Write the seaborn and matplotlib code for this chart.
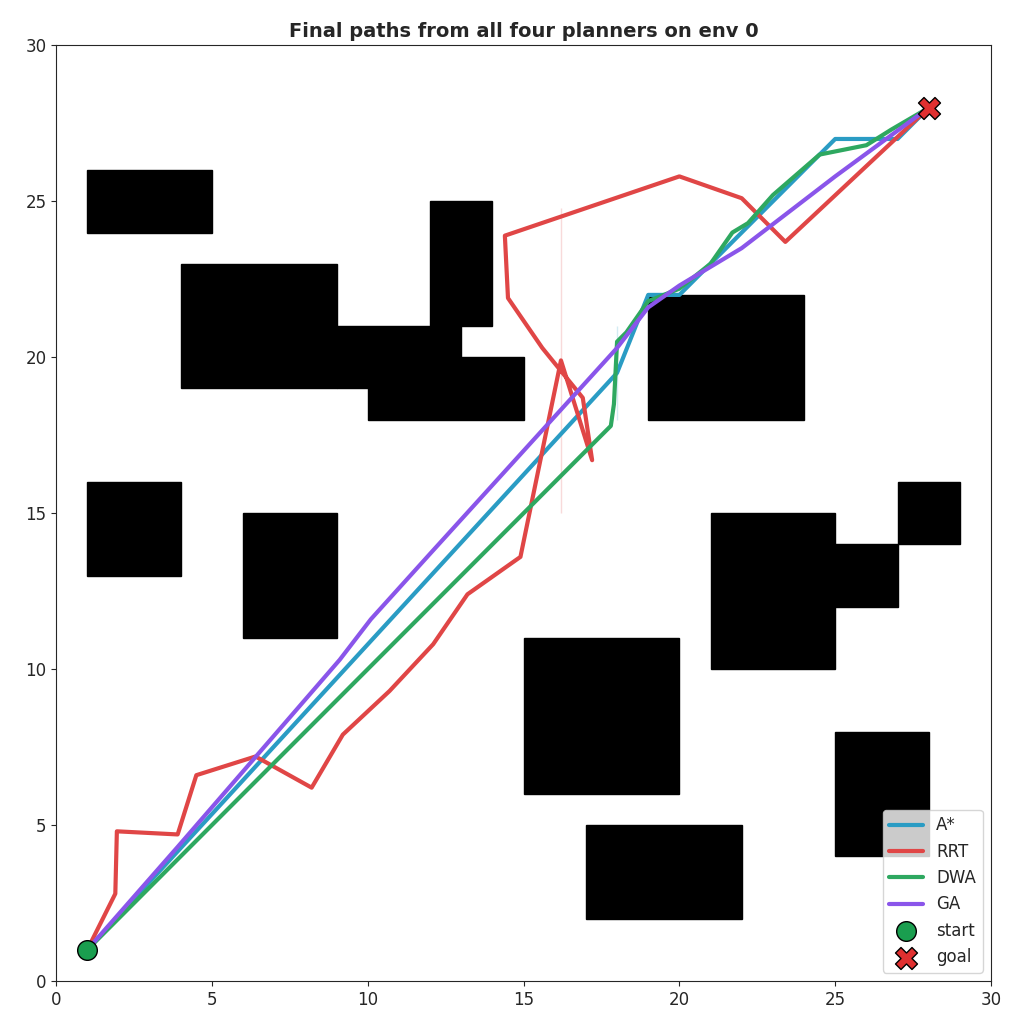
import matplotlib
matplotlib.use("Agg")
import matplotlib.pyplot as plt
import seaborn as sns
import pandas as pd
from matplotlib.patches import Rectangle

sns.set_style("ticks")

obstacles = [(1,24,4,2),(4,19,5,4),(9,19,4,2),(10,18,5,2),(12,21,2,4),(19,18,5,4),
             (1,13,3,3),(6,11,3,4),(21,10,4,5),(25,12,2,2),(27,14,2,2),(15,6,5,5),
             (25,4,3,4),(17,2,5,3)]

astar_x = [1,18,18,19,20,25,27,28]
astar_y = [1,18,21,22,22,27,27,28]
rrt_x = [1,1.9,1.95,3.9,4.5,6.4,8.2,9.2,10.7,12.1,13.2,14.9,16.2,17.2,16.9,15.6,14.5,14.4,16.2,20,22,23.4,28]
rrt_y = [1,2.8,4.8,4.7,6.6,7.2,6.2,7.9,9.3,10.8,12.4,13.6,15,16.7,18.7,20.3,21.9,23.9,24.8,25.8,25.1,23.7,28]
dwa_x = [1,17.8,17.9,18,18.3,19,20,21,21.7,22.2,23,24.5,26,26.8,28]
dwa_y = [1,17.8,18.5,20.5,20.8,21.8,22.2,23,24,24.3,25.2,26.5,26.8,27.3,28]
ga_x = [1,3.9,6.5,9.1,10.1,12,14,16,18,19,20,22,25,28]
ga_y = [1,4.3,7.3,10.3,11.6,13.7,15.9,18.1,20.3,21.6,22.3,23.5,25.8,28]
start = (1, 1)
goal = (28, 28)

fig = plt.figure(figsize=(10.2, 10.32), dpi=100)
ax = fig.add_axes([0.055, 0.0494, 0.9166, 0.9066])
for (x, y, w, h) in obstacles:
    ax.add_patch(Rectangle((x, y), w, h, color="black", zorder=1))

paths = [("A*", astar_x, astar_y, "#2a9cc4"), ("RRT", rrt_x, rrt_y, "#e04646"),
         ("DWA", dwa_x, dwa_y, "#2ea860"), ("GA", ga_x, ga_y, "#8a55ea")]
for name, xs, ys, c in paths:
    df = pd.DataFrame({"x": xs, "y": ys})
    sns.lineplot(data=df, x="x", y="y", sort=False, ax=ax, color=c, lw=3, label=name, zorder=3)

ax.scatter([start[0]], [start[1]], s=200, c="#1a9e4f", edgecolor="black", zorder=5, label="start")
ax.scatter([goal[0]], [goal[1]], s=250, c="#e03030", marker="X", edgecolor="black", zorder=5, label="goal")

ax.set_xlim(0, 30); ax.set_ylim(0, 30)
ax.set_xlabel(""); ax.set_ylabel("")
ax.tick_params(labelsize=12)
ax.set_title("Final paths from all four planners on env 0", fontsize=14, fontweight="bold")
ax.legend(loc="lower right", fontsize=12)
fig.savefig("out.png", dpi=100)
